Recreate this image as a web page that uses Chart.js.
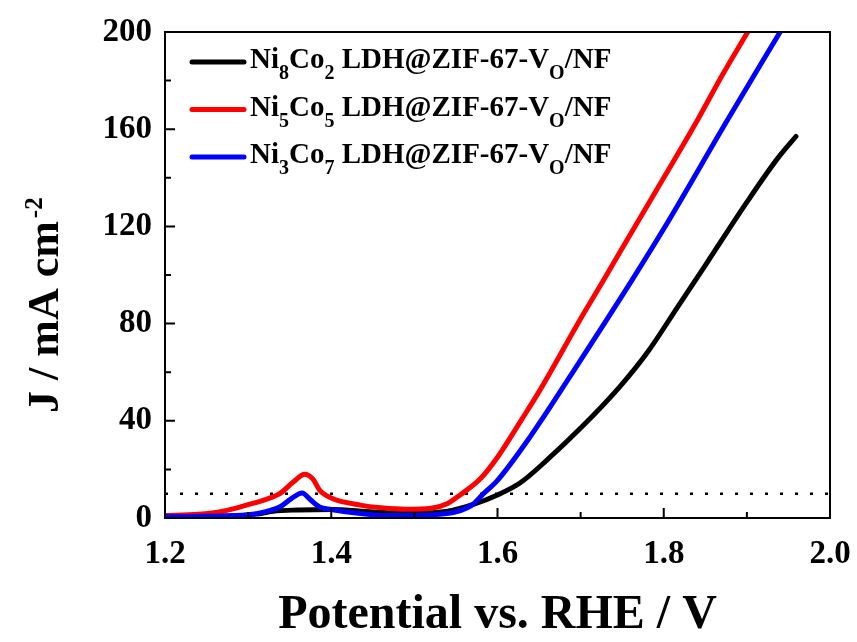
<!DOCTYPE html>
<html>
<head>
<meta charset="utf-8">
<script src="https://cdn.jsdelivr.net/npm/chart.js@4.4.0/dist/chart.umd.min.js"></script>
<style>
    html, body { margin: 0; padding: 0; background: #fff; }
    #wrap { width: 857px; height: 642px; }
</style>
</head>
<body>
<div id="wrap"><canvas id="lsv-chart"></canvas></div>
<script>
const xTicks = [1.2, 1.4, 1.6, 1.8, 2.0];
const xMinorTicks = [1.3, 1.5, 1.7, 1.9];
const yTicks = [0, 40, 80, 120, 160, 200];
const yMinorTicks = [20, 60, 100, 140, 180];

// Ni8Co2 (black)
const ni8co2Potential = [1.20, 1.25, 1.28, 1.31, 1.33, 1.36, 1.40, 1.45, 1.50, 1.54, 1.57, 1.60, 1.627, 1.66, 1.70, 1.747, 1.780, 1.817, 1.85, 1.90, 1.937, 1.959];
const ni8co2Current = [0.5, 0.6, 0.8, 1.6, 2.8, 3.3, 3.5, 2.5, 2.0, 2.8, 5.5, 9.5, 14.4, 24, 37, 54, 68, 87, 104, 130, 148, 157];

// Ni5Co5 (red)
const ni5co5Potential = [1.20, 1.24, 1.27, 1.30, 1.32, 1.338, 1.355, 1.368, 1.378, 1.386, 1.40, 1.435, 1.46, 1.49, 1.52, 1.54, 1.555, 1.579, 1.60, 1.629, 1.65, 1.70, 1.727, 1.75, 1.80, 1.841, 1.87, 1.901];
const ni5co5Current = [1.0, 1.5, 2.8, 5.5, 7.5, 10, 15, 18, 16, 11.5, 8.2, 5.3, 4.2, 3.6, 4.0, 6.0, 9.5, 16, 25, 40.5, 52, 82, 97.5, 111, 140, 164, 182, 200];

// Ni3Co7 (blue)
const ni3co7Potential = [1.20, 1.25, 1.30, 1.32, 1.338, 1.352, 1.365, 1.375, 1.386, 1.40, 1.435, 1.47, 1.50, 1.53, 1.55, 1.57, 1.583, 1.60, 1.639, 1.70, 1.762, 1.80, 1.877, 1.94];
const ni3co7Current = [0.5, 0.7, 1.3, 2.5, 4.5, 8, 10.3, 7.5, 4.5, 3.5, 1.8, 1.0, 1.0, 1.5, 2.5, 5.5, 10, 15.5, 33.3, 65, 98, 119, 164, 200];

// 10 mA cm-2 reference
const refPotential = [1.2, 2.0];
const refCurrent = [10, 10];

// legend text: even parts normal, odd parts subscript
const ni8co2Label = ["Ni", "8", "Co", "2", " LDH@ZIF-67-V", "O", "/NF"];
const ni5co5Label = ["Ni", "5", "Co", "5", " LDH@ZIF-67-V", "O", "/NF"];
const ni3co7Label = ["Ni", "3", "Co", "7", " LDH@ZIF-67-V", "O", "/NF"];

const FONT = "'Liberation Serif', 'Times New Roman', serif";
Chart.defaults.font.family = FONT;
Chart.defaults.color = "#000";

function toPoints(xs, ys) {
    return xs.map((v, i) => ({ x: v, y: ys[i] }));
}

function curve(label, parts, xs, ys, color, order) {
    return {
        label: label,
        parts: parts,
        data: toPoints(xs, ys),
        borderColor: color,
        backgroundColor: color,
        borderWidth: 5,
        pointRadius: 0,
        cubicInterpolationMode: "monotone",
        borderCapStyle: "round",
        borderJoinStyle: "round",
        order: order,
    };
}

const frameAndTicks = {
    id: "frameAndTicks",
    afterDatasetsDraw(chart) {
        const { ctx, chartArea: a, scales: { x, y } } = chart;
        ctx.save();
        ctx.strokeStyle = "#000";
        ctx.lineWidth = 2;
        ctx.beginPath();
        xTicks.forEach((v) => {
            const px = x.getPixelForValue(v);
            ctx.moveTo(px, a.bottom);
            ctx.lineTo(px, a.bottom - 10);
        });
        xMinorTicks.forEach((v) => {
            const px = x.getPixelForValue(v);
            ctx.moveTo(px, a.bottom);
            ctx.lineTo(px, a.bottom - 6);
        });
        yTicks.forEach((v) => {
            const py = y.getPixelForValue(v);
            ctx.moveTo(a.left, py);
            ctx.lineTo(a.left + 10, py);
        });
        yMinorTicks.forEach((v) => {
            const py = y.getPixelForValue(v);
            ctx.moveTo(a.left, py);
            ctx.lineTo(a.left + 6, py);
        });
        ctx.stroke();
        ctx.strokeRect(a.left, a.top, a.right - a.left, a.bottom - a.top);
        ctx.restore();
    },
};

const subLegend = {
    id: "subLegend",
    afterDraw(chart) {
        const { ctx } = chart;
        const entries = chart.data.datasets.filter((d) => d.parts);
        ctx.save();
        entries.forEach((d, i) => {
            const ly = 62 + i * 47.5;
            ctx.strokeStyle = d.borderColor;
            ctx.lineWidth = 5;
            ctx.lineCap = "round";
            ctx.beginPath();
            ctx.moveTo(192, ly);
            ctx.lineTo(244, ly);
            ctx.stroke();
            let tx = 250;
            ctx.fillStyle = "#000";
            ctx.textBaseline = "alphabetic";
            d.parts.forEach((p, k) => {
                if (k % 2 === 0) {
                    ctx.font = "bold 29px " + FONT;
                    ctx.fillText(p, tx, ly + 6);
                } else {
                    ctx.font = "bold 20px " + FONT;
                    ctx.fillText(p, tx, ly + 17);
                }
                tx += ctx.measureText(p).width;
            });
        });
        ctx.restore();
    },
};

const yTitle = {
    id: "yTitle",
    afterDraw(chart) {
        const { ctx } = chart;
        ctx.save();
        ctx.translate(58, 413);
        ctx.rotate(-Math.PI / 2);
        ctx.fillStyle = "#000";
        ctx.textBaseline = "alphabetic";
        ctx.font = "bold 44px " + FONT;
        const main = "J / mA cm";
        ctx.fillText(main, 0, 0);
        const w = ctx.measureText(main).width;
        ctx.font = "bold 25px " + FONT;
        ctx.fillText("-2", w + 3, -16);
        ctx.restore();
    },
};

const lsvCtx = document.getElementById("lsv-chart");

let lsvChart = new Chart(lsvCtx, {
    type: "line",
    data: {
        datasets: [
            curve("Ni8Co2 LDH@ZIF-67-VO/NF", ni8co2Label, ni8co2Potential, ni8co2Current, "#000000", 2),
            curve("Ni5Co5 LDH@ZIF-67-VO/NF", ni5co5Label, ni5co5Potential, ni5co5Current, "#ff0000", 1),
            curve("Ni3Co7 LDH@ZIF-67-VO/NF", ni3co7Label, ni3co7Potential, ni3co7Current, "#0000ff", 0),
            {
                label: "10 mA cm-2",
                data: toPoints(refPotential, refCurrent),
                borderColor: "#000",
                borderWidth: 2.5,
                borderDash: [3, 12],
                pointRadius: 0,
                order: 3,
            },
        ],
    },
    options: {
        responsive: true,
        maintainAspectRatio: false,
        animation: false,
        layout: {
            padding: { top: 32, right: 27, left: 0, bottom: 0 },
        },
        plugins: {
            legend: { display: false },
            tooltip: { enabled: false },
        },
        scales: {
            x: {
                type: "linear",
                min: 1.2,
                max: 2.0,
                grid: { display: false, drawTicks: false },
                border: { display: false },
                afterBuildTicks: (scale) => {
                    scale.ticks = xTicks.map((v) => ({ value: v }));
                },
                afterFit: (scale) => {
                    scale.height = 124;
                    scale.paddingLeft = 0;
                    scale.paddingRight = 0;
                },
                ticks: {
                    padding: 17,
                    maxRotation: 0,
                    font: { size: 33, weight: "bold" },
                    callback: (v) => v.toFixed(1),
                },
                title: {
                    display: true,
                    text: "Potential vs. RHE / V",
                    font: { size: 48, weight: "bold", lineHeight: 1.1 },
                    padding: { top: 0, bottom: 0 },
                },
            },
            y: {
                min: 0,
                max: 200,
                grid: { display: false, drawTicks: false },
                border: { display: false },
                afterBuildTicks: (scale) => {
                    scale.ticks = yTicks.map((v) => ({ value: v }));
                },
                afterFit: (scale) => {
                    scale.width = 165;
                    scale.paddingTop = 0;
                    scale.paddingBottom = 0;
                },
                ticks: {
                    padding: 13,
                    font: { size: 33, weight: "bold" },
                },
            },
        },
    },
    plugins: [frameAndTicks, subLegend, yTitle],
});
</script>
</body>
</html>
